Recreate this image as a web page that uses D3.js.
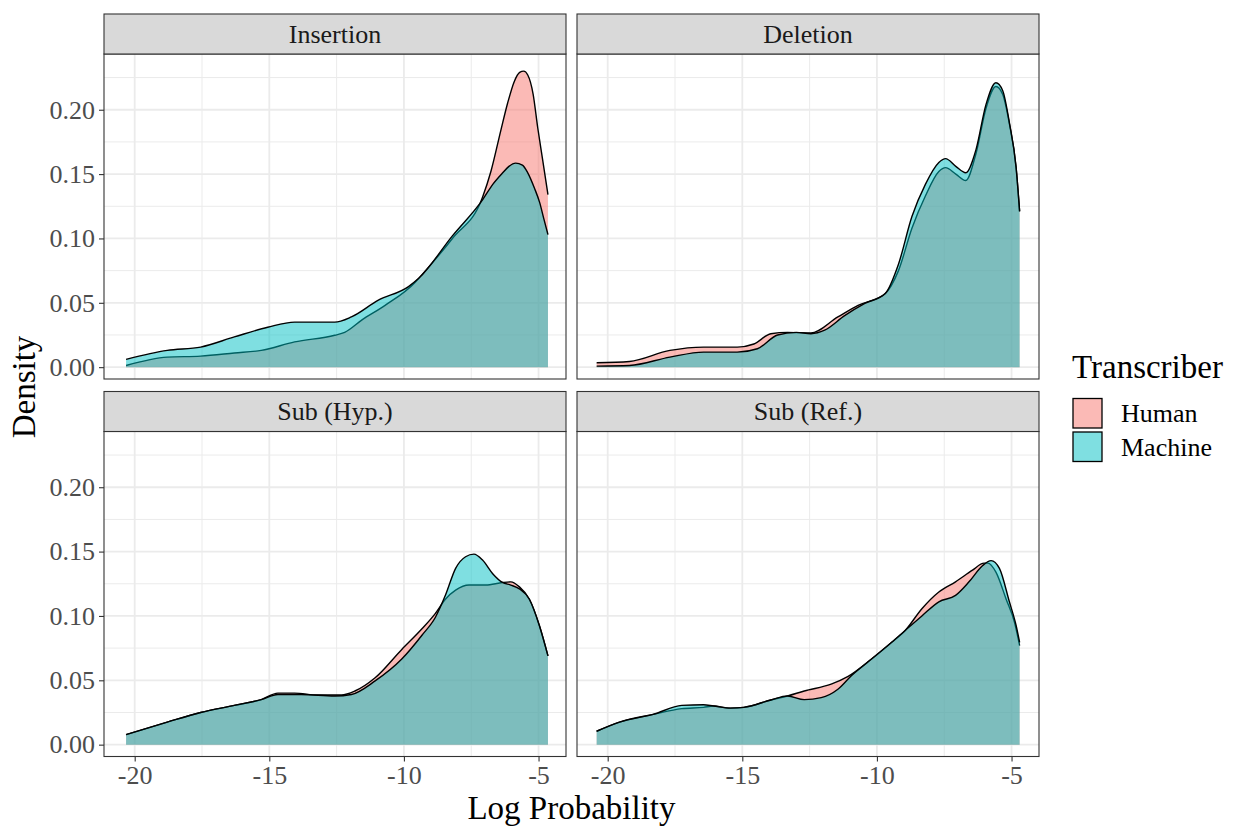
<!DOCTYPE html>
<html>
<head>
<meta charset="utf-8">
<script src="https://cdn.jsdelivr.net/npm/d3@7"></script>
<style>
  body { margin: 0; background: #fff; }
  svg text { font-family: "Liberation Serif", "Times New Roman", serif; }
</style>
</head>
<body>
<script>
'use strict';

// facet order, legend groups
const facets = ["Insertion", "Deletion", "Sub (Hyp.)", "Sub (Ref.)"];
const groups = ["Human", "Machine"];
const groupColors = ["#F8766D", "#00BFC4"];

const xTicks = [-20, -15, -10, -5];
const xMinor = [-17.5, -12.5, -7.5];
const yTicks = [0, 0.05, 0.10, 0.15, 0.20];
const yMinor = [0.025, 0.075, 0.125, 0.175, 0.225];

// density curves: [log probability, density]
const insertionHuman = [[-20.32,0.0013],[-18.79,0.0078],[-17.55,0.0086],[-16.3,0.011],[-15.3,0.013],[-14.06,0.0196],
  [-12.57,0.0248],[-12.2,0.027],[-11.57,0.0365],[-10.7,0.048],[-9.58,0.066],[-9.45,0.069],[-8.2,0.100],[-7.08,0.132],
  [-6.77,0.152],[-6.4,0.184],[-6.15,0.205],[-5.9,0.222],[-5.7,0.229],[-5.55,0.230],[-5.4,0.227],[-5.2,0.212],
  [-5.03,0.186],[-4.84,0.160],[-4.65,0.134]];
const insertionMachine = [[-20.32,0.006],[-18.79,0.013],[-17.55,0.0156],[-16.3,0.0235],[-15.06,0.031],[-14.06,0.035],
  [-12.57,0.035],[-11.95,0.039],[-10.95,0.052],[-9.83,0.0626],[-9.45,0.069],[-8.2,0.102],[-7.08,0.130],[-6.7,0.142],
  [-6.33,0.151],[-6.1,0.156],[-5.85,0.1585],[-5.6,0.157],[-5.4,0.151],[-5.15,0.139],[-4.96,0.128],[-4.8,0.115],
  [-4.65,0.103]];

const deletionHuman = [[-20.41,0.0034],[-19.19,0.0044],[-17.69,0.013],[-16.44,0.0156],[-15.19,0.0156],[-14.57,0.018],
  [-13.94,0.026],[-13.32,0.027],[-12.45,0.0266],[-11.45,0.039],[-10.7,0.048],[-9.7,0.057],[-9.2,0.075],[-8.7,0.108],
  [-8.2,0.133],[-7.7,0.152],[-7.45,0.155],[-7.07,0.150],[-6.7,0.145],[-6.32,0.166],[-5.95,0.201],[-5.58,0.218],
  [-5.33,0.212],[-5.08,0.189],[-4.83,0.155],[-4.7,0.121]];
const deletionMachine = [[-20.41,0.0008],[-19.19,0.0013],[-17.69,0.0078],[-16.44,0.0117],[-15.19,0.0117],[-14.44,0.0143],
  [-13.69,0.025],[-13.0,0.027],[-12.45,0.026],[-11.94,0.0287],[-11.2,0.040],[-10.45,0.0495],[-9.7,0.057],[-9.2,0.080],
  [-8.7,0.117],[-8.2,0.142],[-7.7,0.159],[-7.45,0.162],[-7.07,0.156],[-6.7,0.151],[-6.32,0.169],[-5.95,0.204],
  [-5.58,0.221],[-5.33,0.215],[-5.08,0.190],[-4.83,0.155],[-4.7,0.121]];

const subHypHuman = [[-20.32,0.0078],[-18.79,0.0175],[-17.55,0.025],[-16.3,0.0305],[-15.3,0.035],[-14.68,0.040],
  [-14.06,0.040],[-13.19,0.0386],[-12.32,0.0386],[-11.82,0.0417],[-11.07,0.052],[-10.08,0.074],[-9.33,0.090],
  [-8.83,0.102],[-8.46,0.113],[-8.08,0.120],[-7.58,0.124],[-6.96,0.124],[-6.34,0.126],[-6.03,0.1265],[-5.71,0.1226],
  [-5.34,0.113],[-4.97,0.0926],[-4.65,0.069]];
const subHypMachine = [[-20.32,0.0078],[-18.79,0.0175],[-17.55,0.025],[-16.3,0.0305],[-15.3,0.035],[-14.68,0.039],
  [-13.81,0.039],[-12.57,0.0378],[-11.95,0.039],[-11.07,0.0495],[-10.08,0.0665],[-9.33,0.085],[-8.83,0.099],
  [-8.46,0.116],[-8.08,0.137],[-7.71,0.146],[-7.4,0.148],[-7.08,0.1434],[-6.71,0.133],[-6.34,0.126],[-6.03,0.124],
  [-5.71,0.121],[-5.34,0.113],[-4.97,0.0926],[-4.65,0.069]];

const subRefHuman = [[-20.41,0.0104],[-19.56,0.0175],[-18.31,0.0235],[-17.25,0.028],[-16.44,0.029],[-16.07,0.030],
  [-15.44,0.0284],[-14.94,0.029],[-13.94,0.0347],[-13.32,0.0378],[-12.7,0.0417],[-11.7,0.047],[-11.07,0.053],
  [-10.2,0.0665],[-9.45,0.0795],[-8.95,0.0887],[-8.33,0.1056],[-7.7,0.1186],[-7.08,0.1265],[-6.45,0.1356],
  [-6.02,0.141],[-5.88,0.141],[-5.58,0.134],[-5.2,0.113],[-4.89,0.095],[-4.7,0.077]];
const subRefMachine = [[-20.41,0.0104],[-19.56,0.0175],[-18.31,0.0235],[-17.25,0.0305],[-16.44,0.031],[-16.07,0.030],
  [-15.44,0.0284],[-14.94,0.029],[-13.94,0.0347],[-13.32,0.0378],[-12.7,0.035],[-12.07,0.0365],[-11.45,0.043],
  [-10.95,0.0535],[-10.2,0.0665],[-9.45,0.0795],[-8.95,0.0887],[-8.33,0.100],[-7.7,0.111],[-7.08,0.116],
  [-6.58,0.1265],[-6.08,0.139],[-5.76,0.143],[-5.45,0.137],[-5.08,0.111],[-4.83,0.0926],[-4.7,0.0795]];

const facetData = [
  [insertionHuman, insertionMachine],
  [deletionHuman, deletionMachine],
  [subHypHuman, subHypMachine],
  [subRefHuman, subRefMachine]
];

(function () {
    const W = 1233, H = 829;
    const svg = d3.select("body").append("svg")
        .attr("width", W)
        .attr("height", H);

    // panel layout
    const colX = [104, 577];
    const rowTop = [14, 391.5];
    const stripH = 40;
    const pw = 462, ph = 325;

    const x = d3.scaleLinear().domain([-21.14, -3.98]).range([0, pw]);
    const y = d3.scaleLinear().domain([-0.0092, 0.2433]).range([ph, 0]);

    const area = d3.area()
        .x(d => x(d[0]))
        .y0(y(0))
        .y1(d => y(d[1]))
        .curve(d3.curveMonotoneX);
    const line = d3.line()
        .x(d => x(d[0]))
        .y(d => y(d[1]))
        .curve(d3.curveMonotoneX);

    facets.forEach((name, i) => {
        const col = i % 2, row = Math.floor(i / 2);
        const g = svg.append("g")
            .attr("transform", `translate(${colX[col]},${rowTop[row] + stripH})`);

        // strip
        svg.append("rect")
            .attr("x", colX[col]).attr("y", rowTop[row])
            .attr("width", pw).attr("height", stripH)
            .attr("fill", "#D9D9D9")
            .attr("stroke", "#333333").attr("stroke-width", 1.1);
        svg.append("text")
            .attr("x", colX[col] + pw / 2)
            .attr("y", rowTop[row] + stripH / 2)
            .attr("dy", "0.33em")
            .attr("text-anchor", "middle")
            .attr("font-size", 26)
            .attr("fill", "#1A1A1A")
            .text(name);

        // grid
        g.append("rect").attr("width", pw).attr("height", ph).attr("fill", "#fff");
        g.selectAll(".xminor").data(xMinor).enter().append("line")
            .attr("x1", d => x(d)).attr("x2", d => x(d))
            .attr("y1", 0).attr("y2", ph)
            .attr("stroke", "#EBEBEB").attr("stroke-width", 1);
        g.selectAll(".yminor").data(yMinor).enter().append("line")
            .attr("y1", d => y(d)).attr("y2", d => y(d))
            .attr("x1", 0).attr("x2", pw)
            .attr("stroke", "#EBEBEB").attr("stroke-width", 1);
        g.selectAll(".xmajor").data(xTicks).enter().append("line")
            .attr("x1", d => x(d)).attr("x2", d => x(d))
            .attr("y1", 0).attr("y2", ph)
            .attr("stroke", "#EBEBEB").attr("stroke-width", 1.8);
        g.selectAll(".ymajor").data(yTicks).enter().append("line")
            .attr("y1", d => y(d)).attr("y2", d => y(d))
            .attr("x1", 0).attr("x2", pw)
            .attr("stroke", "#EBEBEB").attr("stroke-width", 1.8);

        // densities, human first then machine
        facetData[i].forEach((pts, k) => {
            g.append("path")
                .attr("d", area(pts))
                .attr("fill", groupColors[k])
                .attr("fill-opacity", 0.5);
            g.append("path")
                .attr("d", line(pts))
                .attr("fill", "none")
                .attr("stroke", "#000")
                .attr("stroke-width", 1.4);
        });

        // border
        g.append("rect").attr("width", pw).attr("height", ph)
            .attr("fill", "none").attr("stroke", "#333333").attr("stroke-width", 1.1);

        // axes
        if (col === 0) {
            const ya = g.append("g")
                .call(d3.axisLeft(y).tickValues(yTicks).tickSize(5).tickPadding(4)
                    .tickFormat(d3.format(".2f")));
            ya.select(".domain").remove();
            ya.selectAll("line").attr("stroke", "#333333").attr("stroke-width", 1.1);
            ya.selectAll("text").attr("font-size", 26).attr("fill", "#4D4D4D")
                .attr("font-family", "Liberation Serif, serif");
        }
        if (row === 1) {
            const xa = g.append("g").attr("transform", `translate(0,${ph})`)
                .call(d3.axisBottom(x).tickValues(xTicks).tickSize(5).tickPadding(4)
                    .tickFormat(d => String(d)));
            xa.select(".domain").remove();
            xa.selectAll("line").attr("stroke", "#333333").attr("stroke-width", 1.1);
            xa.selectAll("text").attr("font-size", 26).attr("fill", "#4D4D4D")
                .attr("font-family", "Liberation Serif, serif");
        }
    });

    // axis titles
    svg.append("text")
        .attr("x", (colX[0] + colX[1] + pw) / 2)
        .attr("y", 819)
        .attr("text-anchor", "middle")
        .attr("font-size", 33)
        .text("Log Probability");
    svg.append("text")
        .attr("transform", "translate(35,387) rotate(-90)")
        .attr("text-anchor", "middle")
        .attr("font-size", 33)
        .text("Density");

    // legend
    const lg = svg.append("g").attr("transform", "translate(1072,0)");
    lg.append("text").attr("x", 0).attr("y", 378).attr("font-size", 33).text("Transcriber");
    groups.forEach((name, k) => {
        lg.append("rect")
            .attr("x", 1).attr("y", 398.5 + k * 33.5)
            .attr("width", 29).attr("height", 29.5)
            .attr("fill", groupColors[k]).attr("fill-opacity", 0.5)
            .attr("stroke", "#000").attr("stroke-width", 1.3);
        lg.append("text")
            .attr("x", 49).attr("y", 413 + k * 33.5)
            .attr("dy", "0.35em")
            .attr("font-size", 26)
            .text(name);
    });
})();
</script>
</body>
</html>
